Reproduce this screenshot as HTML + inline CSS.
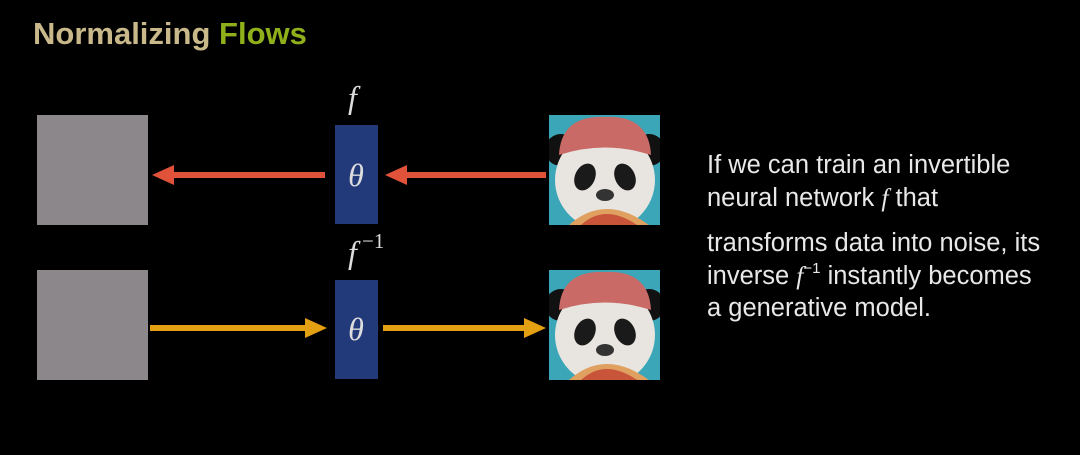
<!DOCTYPE html>
<html><head><style>
body{margin:0;width:1080px;height:455px;background:#000;overflow:hidden;position:relative;font-family:"Liberation Sans",sans-serif}
.t{position:absolute;left:33px;top:16px;font-size:31px;font-weight:bold;color:#c9b98a}
.t span{color:#8fb01a}
.txt{position:absolute;left:707px;color:#e8e8e8;font-size:25.5px;line-height:32.5px;white-space:nowrap}
.m{font-family:"Liberation Serif",serif;font-style:italic}
sup{font-size:15px;line-height:0;vertical-align:0;position:relative;top:-11px}
</style></head><body>
<div class="t">Normalizing <span>Flows</span></div>
<svg width="1080" height="455" style="position:absolute;left:0;top:0">
<defs>
<clipPath id="c"><rect x="0" y="0" width="111" height="110"/></clipPath>
<g id="panda" clip-path="url(#c)">
<rect x="0" y="0" width="111" height="110" fill="#3aa6b8"/>
<circle cx="12" cy="35" r="16" fill="#111"/><circle cx="100" cy="35" r="16" fill="#111"/>
<ellipse cx="56" cy="65" rx="50" ry="50" fill="#e8e4df"/>
<path d="M10 40 Q12 0 56 2 Q100 0 102 40 Q56 25 10 40Z" fill="#c96a66"/>
<ellipse cx="36" cy="62" rx="10" ry="14" fill="#1a1a1a" transform="rotate(25 36 62)"/>
<ellipse cx="76" cy="62" rx="10" ry="14" fill="#1a1a1a" transform="rotate(-25 76 62)"/>
<ellipse cx="56" cy="80" rx="9" ry="6" fill="#333"/>
<path d="M20 110 Q56 78 100 110Z" fill="#e0a060"/>
<path d="M32 110 Q56 88 88 110Z" fill="#c8543a"/>
</g>
</defs>
<rect x="37" y="115" width="111" height="110" fill="#8c878b"/>
<rect x="37" y="270" width="111" height="110" fill="#8c878b"/>
<rect x="335" y="125" width="43" height="99" fill="#233a7a"/>
<rect x="335" y="280" width="43" height="99" fill="#233a7a"/>
<use href="#panda" x="549" y="115"/>
<use href="#panda" x="549" y="270"/>
<g fill="#e0523a" stroke="none">
<rect x="170" y="172" width="155" height="6"/><polygon points="152,175 174,165 174,185"/>
<rect x="403" y="172" width="143" height="6"/><polygon points="385,175 407,165 407,185"/>
</g>
<g fill="#e3a012">
<rect x="150" y="325" width="155" height="6"/><polygon points="327,328 305,318 305,338"/>
<rect x="383" y="325" width="143" height="6"/><polygon points="546,328 524,318 524,338"/>
</g>
<g fill="#ddd" font-family="Liberation Serif,serif" font-style="italic">
<text x="356" y="186" font-size="32" text-anchor="middle">θ</text>
<text x="356" y="340" font-size="32" text-anchor="middle">θ</text>
<text x="348" y="108" font-size="32">f</text>
<text x="348" y="263" font-size="32">f</text>
<text x="362" y="248" font-size="21" font-style="normal">−1</text>
</g>
</svg>
<div class="txt" style="top:149px">If we can train an invertible<br>neural network <span class="m">f</span> that</div>
<div class="txt" style="top:227px">transforms data into noise, its<br>inverse <span class="m">f</span><sup>−1</sup> instantly becomes<br>a generative model.</div>
</body></html>
